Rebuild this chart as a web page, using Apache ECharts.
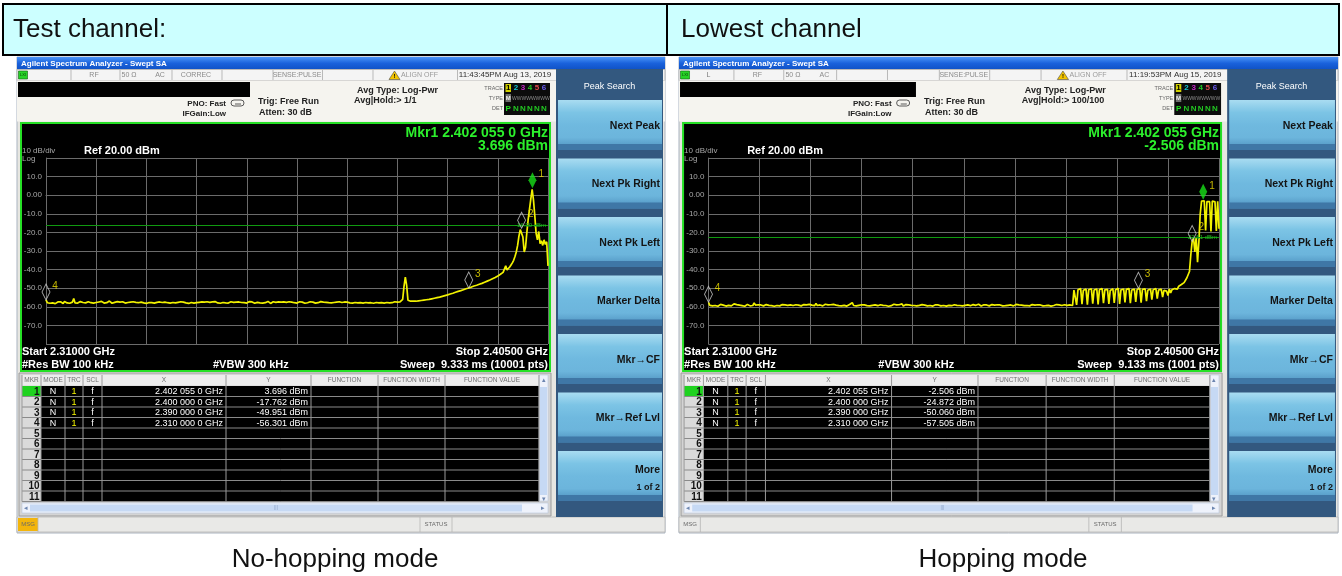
<!DOCTYPE html>
<html>
<head>
<meta charset="utf-8">
<title>Band edge - hopping / no-hopping</title>
<script src="https://cdn.jsdelivr.net/npm/echarts@6/dist/echarts.min.js"></script>
<style>
html,body{margin:0;padding:0;background:#fff;}
#grafica{width:1342px;height:576px;}
</style>
</head>
<body>
<div id="grafica"></div>
<script>
// sweep: 2.310 GHz .. 2.405 GHz, trace read every 0.25 MHz
const startMHz = 2310;
const stopMHz = 2405;
const stepMHz = 0.25;

// No-hopping mode trace (dBm)
const leftTrace = [
-56.3,-57.8,-57.2,-58.1,-57.5,-57.9,-57.0,-58.3,-57.6,-57.4,-58.0,-57.3,-57.7,-58.2,-57.1,-57.6,-57.9,-57.4,-58.1,-57.8,
-57.5,-55.6,-57.9,-57.3,-58.0,-57.6,-57.2,-58.2,-57.7,-57.4,-57.9,-58.1,-57.3,-57.6,-57.8,-57.2,-58.0,-57.5,-57.7,-58.3,
-57.4,-57.9,-57.1,-57.6,-58.0,-57.3,-57.8,-57.5,-56.9,-57.7,-58.1,-57.4,-57.6,-57.9,-57.2,-58.2,-57.5,-57.8,-57.3,-57.6,
-58.0,-57.4,-57.7,-56.8,-57.5,-58.1,-57.3,-57.9,-57.6,-57.2,-57.8,-58.0,-57.5,-57.3,-57.9,-57.6,-58.2,-57.4,-57.7,-57.1,
-57.8,-57.5,-58.0,-57.3,-57.6,-57.9,-57.4,-56.9,-57.7,-58.1,-57.5,-57.2,-57.8,-57.6,-58.0,-57.3,-57.7,-57.5,-57.9,-57.4,
-57.6,-58.1,-57.3,-57.8,-57.5,-57.0,-57.9,-57.6,-58.2,-57.4,-57.7,-57.3,-58.0,-57.5,-57.8,-57.2,-57.6,-57.9,-57.4,-58.1,
-57.5,-57.7,-57.3,-57.9,-57.6,-58.0,-57.4,-57.8,-57.2,-57.6,-57.9,-57.5,-58.1,-57.3,-57.7,-57.4,-57.9,-57.6,-58.0,-57.5,
-57.3,-57.8,-57.6,-56.7,-57.5,-57.9,-57.4,-58.1,-57.7,-57.3,-57.8,-57.5,-58.0,-57.6,-57.2,-57.9,-57.4,-57.7,-58.1,-57.5,
-57.6,-57.3,-57.9,-57.5,-58.0,-57.4,-57.8,-57.6,-57.1,-57.7,-58.2,-57.5,-57.3,-57.8,-57.6,-57.9,-57.4,-58.0,-57.5,-57.7,
-57.4,-57.9,-57.6,-58.1,-57.3,-57.7,-57.5,-56.6,-57.8,-57.4,-58.0,-57.6,-57.3,-57.9,-57.5,-57.7,-58.1,-57.4,-57.8,-57.6,
-57.3,-57.9,-57.5,-57.7,-58.0,-57.4,-57.8,-57.6,-57.2,-57.9,-57.5,-58.1,-57.6,-57.3,-57.8,-57.5,-57.9,-57.4,-57.7,-58.0,
-57.5,-57.6,-57.3,-57.9,-57.7,-58.1,-57.4,-57.8,-57.5,-57.2,-57.9,-57.6,-58.0,-57.4,-57.7,-57.5,-57.9,-57.3,-57.8,-57.6,
-58.0,-57.4,-57.7,-57.5,-57.9,-57.3,-57.8,-57.6,-58.1,-57.4,-57.7,-57.2,-57.9,-57.5,-57.8,-57.6,-58.0,-57.3,-57.7,-57.5,
-57.9,-57.4,-57.8,-57.6,-57.3,-57.9,-57.5,-58.0,-57.4,-57.7,-56.0,-49.0,-44.0,-48.5,-56.5,-57.3,-57.0,-57.4,-56.9,-57.2,
-57.0,-57.3,-56.8,-57.1,-56.6,-57.0,-56.4,-56.8,-56.2,-56.6,-56.0,-56.3,-55.7,-56.0,-55.4,-55.8,-55.1,-55.4,-54.8,-55.0,
-54.4,-54.7,-54.0,-54.2,-53.6,-53.8,-53.1,-53.4,-52.7,-52.9,-52.2,-52.4,-51.7,-51.9,-51.3,-51.4,-50.8,-50.9,-50.3,-50.4,
-49.9,-49.8,-49.4,-49.3,-48.8,-48.9,-48.4,-48.3,-47.9,-47.8,-47.4,-47.2,-46.8,-46.6,-46.2,-46.0,-45.6,-45.3,-44.9,-44.6,
-44.2,-43.8,-43.4,-43.0,-42.5,-42.0,-41.5,-40.8,-38.0,-40.2,-39.5,-38.6,-37.5,-36.4,-35.0,-33.0,-30.5,-27.0,-22.0,-18.5,
-17.8,-22.5,-30.5,-28.0,-20.0,-13.0,-7.5,-2.0,3.2,-2.5,-11.0,-20.5,-24.0,-19.5,-26.0,-24.5,-27.0,-24.0,-26.5,-25.0,
-38.0
];

// Hopping mode trace (dBm)
const rightTrace = [
-57.6,-59.2,-58.8,-59.5,-58.9,-59.3,-58.6,-59.7,-59.0,-58.7,-59.4,-59.1,-58.5,-59.6,-58.9,-59.2,-58.7,-59.5,-59.0,-58.4,
-59.3,-58.8,-59.6,-59.1,-58.6,-59.4,-58.9,-59.7,-59.2,-58.7,-59.0,-59.5,-58.8,-59.3,-57.9,-59.1,-59.6,-58.9,-59.4,-59.0,
-58.7,-59.5,-59.1,-58.8,-59.6,-59.2,-58.5,-59.4,-59.0,-59.7,-58.9,-59.3,-58.6,-59.5,-59.1,-58.8,-59.4,-59.0,-58.3,-59.2,
-59.6,-59.0,-58.7,-59.3,-59.8,-58.9,-59.4,-59.1,-58.6,-59.5,-59.2,-58.8,-59.6,-59.0,-59.3,-58.7,-59.5,-59.1,-58.9,-59.4,
-58.2,-59.3,-59.7,-59.0,-58.8,-59.5,-59.2,-58.6,-59.4,-59.0,-59.7,-58.9,-59.3,-58.7,-59.6,-59.1,-58.8,-59.4,-59.0,-59.5,
-58.9,-59.2,-58.6,-59.6,-59.1,-58.8,-59.4,-57.8,-59.3,-59.0,-59.5,-58.7,-59.2,-59.8,-58.9,-59.3,-59.0,-58.6,-59.4,-59.1,
-59.5,-58.8,-59.2,-59.7,-59.0,-58.7,-59.4,-59.1,-58.9,-59.6,-59.2,-58.5,-59.3,-59.0,-59.7,-58.8,-59.4,-59.1,-58.6,-59.3,
-59.0,-59.5,-58.9,-59.2,-58.4,-59.6,-59.1,-58.8,-59.4,-59.0,-59.7,-59.2,-58.7,-59.3,-59.0,-59.5,-58.9,-59.2,-59.6,-58.8,
-59.4,-59.1,-58.7,-59.5,-59.0,-59.3,-58.8,-59.6,-59.2,-58.9,-59.4,-59.0,-58.6,-59.5,-59.1,-59.3,-58.8,-59.6,-59.0,-59.2,
-58.7,-59.4,-59.1,-58.9,-59.6,-59.2,-58.8,-59.3,-59.0,-59.5,-58.9,-59.2,-59.7,-59.0,-58.7,-59.4,-59.1,-58.8,-59.5,-59.2,
-59.0,-58.6,-59.3,-59.6,-59.1,-58.9,-59.4,-59.0,-58.7,-59.5,-59.2,-58.8,-59.4,-59.1,-59.6,-58.9,-59.3,-59.0,-58.8,-59.5,
-59.1,-59.4,-58.8,-59.2,-59.7,-59.0,-58.9,-59.5,-59.2,-58.7,-59.3,-59.0,-59.6,-59.1,-58.8,-59.4,-59.0,-59.3,-58.9,-59.5,
-59.2,-58.8,-59.4,-59.1,-59.6,-58.9,-59.3,-59.0,-58.7,-59.5,-59.1,-59.4,-58.8,-59.2,-59.0,-59.6,-58.9,-59.3,-59.1,-58.8,
-59.4,-59.0,-58.7,-59.3,-59.1,-58.9,-59.5,-59.2,-58.8,-59.0,-58.6,-59.3,
-51.0,-50.4,-59.0,-50.9, -50.7,-50.2,-58.6,-51.1, -50.9,-50.5,-58.9,-50.8, -50.6,-50.3,-58.3,-51.0,
-51.1,-50.4,-58.7,-50.7, -50.8,-50.2,-58.1,-50.9, -50.5,-50.6,-58.5,-51.2, -50.9,-50.3,-57.9,-50.8,
-50.7,-50.1,-58.4,-50.9, -51.0,-50.4,-57.6,-50.6, -50.6,-50.2,-58.0,-51.0, -50.8,-50.5,-57.4,-50.7,
-50.1,-50.0,-57.8,-50.6, -50.7,-50.3,-56.9,-51.1, -50.9,-50.4,-56.2,-50.8, -50.6,-50.2,-55.6,-51.0,
-50.8,-50.5,-54.8,-51.2, -50.7,-51.6,-53.9,-50.4,
-52.5,-50.8,-51.5,-50.2,-49.6,-50.5,-48.9,-49.5,-48.0,-48.6,-47.0,-46.0,-44.5,-45.2,-41.0,-32.0,
-24.9,-23.0,-30.5,-22.5,-36.0,-25.0,-10.0,-3.2,-2.6,-3.0,-19.0,-3.4,-2.8,-3.5,-19.5,-3.1,
-2.9,-3.6,-19.2,-3.3,-18.0
];

// marker table (MHz / dBm)
const leftMkrFreq = [2402.055, 2400.000, 2390.000, 2310.000];
const leftMkrLevel = [3.696, -17.762, -49.951, -56.301];
const rightMkrFreq = [2402.055, 2400.000, 2390.000, 2310.000];
const rightMkrLevel = [-2.506, -24.872, -50.060, -57.505];

// display line (dBm)
const leftDisplayLine = -16.30;
const rightDisplayLine = -22.51;

const softkeyLabels = ['Next Peak', 'Next Pk Right', 'Next Pk Left', 'Marker Delta', 'Mkr\u2192CF', 'Mkr\u2192Ref Lvl'];
const tableHead = ['MKR', 'MODE', 'TRC', 'SCL', 'X', 'Y', 'FUNCTION', 'FUNCTION WIDTH', 'FUNCTION VALUE'];

const FONT = '"Liberation Sans", Arial, sans-serif';

const panels = [
  { ox: 17, k: 1, trace: leftTrace, mkF: leftMkrFreq, mkL: leftMkrLevel, dl: leftDisplayLine, digits: 7,
    lead: '', correc: 'CORREC', time: '11:43:45PM Aug 13, 2019', hold: 'Avg|Hold:> 1/1',
    sweep: 'Sweep  9.333 ms (10001 pts)', msgHi: true },
  { ox: 679, k: 1.017, trace: rightTrace, mkF: rightMkrFreq, mkL: rightMkrLevel, dl: rightDisplayLine, digits: 6,
    lead: 'L', correc: '', time: '11:19:53PM Aug 15, 2019', hold: 'Avg|Hold:> 100/100',
    sweep: 'Sweep  9.133 ms (1001 pts)', msgHi: false }
];

function fmtGHz(mhz, digits) {
  const s = (mhz / 1000).toFixed(digits);
  const parts = s.split('.');
  const groups = parts[1].match(/.{1,3}/g).join(' ');
  return parts[0] + '.' + groups + ' GHz';
}

function box(x, y, w, h, fill, stroke, lw, z, r) {
  return { type: 'rect', z: z == null ? 1 : z, silent: true,
    shape: { x: x, y: y, width: w, height: h, r: r || 0 },
    style: { fill: fill, stroke: stroke || null, lineWidth: lw || 0 } };
}
function seg(x1, y1, x2, y2, color, lw, z) {
  return { type: 'line', z: z == null ? 3 : z, silent: true,
    shape: { x1: x1, y1: y1, x2: x2, y2: y2 }, style: { stroke: color, lineWidth: lw || 1 } };
}
function txt(x, y, s, font, color, align, z) {
  return { type: 'text', z: z == null ? 6 : z, silent: true,
    style: { text: s, x: x, y: y, font: font, fill: color,
      textAlign: align || 'left', align: align || 'left', textVerticalAlign: 'middle', verticalAlign: 'middle' } };
}
function grad(stops) {
  return new echarts.graphic.LinearGradient(0, 0, 0, 1, stops.map((c, i) => ({ offset: i / (stops.length - 1), color: c })));
}

function panelGraphics(p) {
  const X = x => p.ox + (x - 17) * p.k;
  const W = (a, b) => (b - a) * p.k;
  const g = [];

  // window, title bar
  g.push(box(X(17), 57, W(17, 665), 476, '#e7e6e1', '#a9b3c0', 1, -3));
  g.push(box(X(17), 57, W(17, 665), 12.5, grad(['#4a95f7', '#1a62dc', '#0f52c6']), null, 0, -2));
  g.push(txt(X(21), 63.5, 'Agilent Spectrum Analyzer - Swept SA', 'bold 8px ' + FONT, '#ffffff'));

  // status row
  g.push(box(X(17), 69.5, W(17, 665), 11, '#f4f4f4', '#b9b9b9', 1, -2));
  [71, 120, 172, 222, 273, 322.5, 373, 457.5].forEach(s => g.push(seg(X(s), 70, X(s), 80, '#b9b9b9', 1, 0)));
  g.push(box(X(18.5), 71, 9, 8, '#27d327', '#0f5f0f', 0.6, 1));
  g.push(txt(X(18.5) + 4.5, 75, 'LXI', '4px ' + FONT, '#063806', 'center'));
  if (p.lead) g.push(txt(X(46), 75, p.lead, '7px ' + FONT, '#7a7a7a', 'center'));
  g.push(txt(X(94), 75, 'RF', '7px ' + FONT, '#8a8a8a', 'center'));
  g.push(txt(X(129), 75, '50 \u03a9', '7px ' + FONT, '#8a8a8a', 'center'));
  g.push(txt(X(160), 75, 'AC', '7px ' + FONT, '#8a8a8a', 'center'));
  if (p.correc) g.push(txt(X(196), 75, p.correc, '7px ' + FONT, '#8a8a8a', 'center'));
  g.push(txt(X(297), 75, 'SENSE:PULSE', '7px ' + FONT, '#8a8a8a', 'center'));
  g.push({ type: 'polygon', z: 4, silent: true, shape: { points: [[X(389), 79.5], [X(394.5), 71], [X(400), 79.5]] },
    style: { fill: '#f2c400', stroke: '#4a4a4a', lineWidth: 0.6 } });
  g.push(txt(X(394.5), 76.5, '!', 'bold 6px ' + FONT, '#000', 'center'));
  g.push(txt(X(401), 75, 'ALIGN OFF', '7px ' + FONT, '#9a9a9a'));
  g.push(txt(X(505), 75, p.time, '8px ' + FONT, '#303030', 'center'));

  // settings header
  g.push(box(X(17), 80.5, W(17, 665), 41, '#f5f4ef', null, 0, -2));
  g.push(box(X(18), 82, W(18, 250), 15, '#000000', null, 0, 1));
  g.push(txt(X(226), 104, 'PNO: Fast', 'bold 8px ' + FONT, '#222', 'right'));
  g.push(txt(X(226), 114, 'IFGain:Low', 'bold 8px ' + FONT, '#222', 'right'));
  g.push(box(X(231), 100, 13, 6, null, '#333', 0.8, 4, 3));
  g.push(seg(X(235), 104, X(241), 104, '#333', 0.8, 4));
  g.push(txt(X(258), 102, 'Trig: Free Run', 'bold 9px ' + FONT, '#222'));
  g.push(txt(X(259), 113, 'Atten: 30 dB', 'bold 9px ' + FONT, '#222'));
  g.push(txt(X(357), 91, 'Avg Type: Log-Pwr', 'bold 9px ' + FONT, '#222'));
  g.push(txt(X(354), 101, p.hold, 'bold 9px ' + FONT, '#222'));

  // trace / type / det box
  g.push(txt(X(503), 88, 'TRACE', '5.5px ' + FONT, '#666', 'right'));
  g.push(txt(X(503), 98, 'TYPE', '5.5px ' + FONT, '#666', 'right'));
  g.push(txt(X(503), 108.5, 'DET', '5.5px ' + FONT, '#666', 'right'));
  g.push(box(X(504), 83, W(504, 550), 32, '#0c0c0c', null, 0, 1));
  g.push(box(X(505.5), 84, 5.5, 8, '#d2d200', null, 0, 2));
  g.push(txt(X(508.2), 88.2, '1', 'bold 8px ' + FONT, '#000', 'center'));
  [['2', '#12c8d2'], ['3', '#c828c8'], ['4', '#22c622'], ['5', '#e04848'], ['6', '#6a5cf0']].forEach((d, i) =>
    g.push(txt(X(516 + i * 7), 88.2, d[0], 'bold 8px ' + FONT, d[1], 'center')));
  g.push(box(X(505.5), 94, 5.5, 8, '#6e6e6e', null, 0, 2));
  g.push(txt(X(508.2), 98.2, 'M', 'bold 6px ' + FONT, '#eee', 'center'));
  g.push(txt(X(512), 98.2, 'WWWWWWWW', '5px ' + FONT, '#8c8c8c'));
  g.push(txt(X(508.2), 108.5, 'P', 'bold 8px ' + FONT, '#22e022', 'center'));
  ['N', 'N', 'N', 'N', 'N'].forEach((d, i) => g.push(txt(X(516 + i * 7), 108.5, d, 'bold 8px ' + FONT, '#22c622', 'center')));

  // plot frame and annotations
  g.push(box(X(21), 123, W(21, 550), 248, '#000000', '#25e025', 2, -1));
  const mk1 = 'Mkr1 ' + fmtGHz(p.mkF[0], p.digits);
  g.push(txt(X(548), 133, mk1, 'bold 14px ' + FONT, '#2cf02c', 'right', 10));
  g.push(txt(X(548), 146.5, p.mkL[0].toFixed(3) + ' dBm', 'bold 14px ' + FONT, '#2cf02c', 'right', 10));
  g.push(txt(X(22), 151, '10 dB/div', '8px ' + FONT, '#a8a8a8', 'left', 10));
  g.push(txt(X(22), 158.5, 'Log', '8px ' + FONT, '#a8a8a8', 'left', 10));
  g.push(txt(X(84), 150.5, 'Ref 20.00 dBm', 'bold 11px ' + FONT, '#ffffff', 'left', 10));
  g.push(txt(X(22), 352, 'Start ' + (startMHz / 1000).toFixed(5) + ' GHz', 'bold 11px ' + FONT, '#ffffff', 'left', 10));
  g.push(txt(X(548), 352, 'Stop ' + (stopMHz / 1000).toFixed(5) + ' GHz', 'bold 11px ' + FONT, '#ffffff', 'right', 10));
  g.push(txt(X(22), 365, '#Res BW 100 kHz', 'bold 11px ' + FONT, '#ffffff', 'left', 10));
  g.push(txt(X(213), 365, '#VBW 300 kHz', 'bold 11px ' + FONT, '#ffffff', 'left', 10));
  g.push(txt(X(548), 365, p.sweep, 'bold 11px ' + FONT, '#ffffff', 'right', 10));

  // marker table
  const cols = [22, 41, 65, 83, 102, 226, 311, 378, 445, 539];
  const rowTop = 386, rowH = 10.5;
  g.push(box(X(19), 373, W(19, 551), 143, '#d4d4d4', '#9c9c9c', 1, -2));
  g.push(box(X(22), 375, W(22, 539), 10.5, '#ededed', null, 0, 0));
  tableHead.forEach((h, i) => g.push(txt((X(cols[i]) + X(cols[i + 1])) / 2, 380.5, h, '6.5px ' + FONT, '#6f6f6f', 'center')));
  g.push(box(X(41), rowTop, W(41, 539), rowH * 11, '#000000', null, 0, 0));
  for (let r = 0; r < 11; r++) {
    const y = rowTop + r * rowH;
    g.push(box(X(22), y, W(22, 41), rowH, r === 0 ? '#1fd21f' : '#dadada', null, 0, 0));
    g.push(txt(X(39.5), y + rowH / 2 + 0.5, String(r + 1), 'bold 10px ' + FONT, '#111', 'right'));
    g.push(seg(X(22), y + rowH, X(539), y + rowH, '#8a8a8a', 1, 2));
  }
  cols.forEach(c => g.push(seg(X(c), 375, X(c), rowTop + rowH * 11, '#9a9a9a', 1, 2)));
  for (let r = 0; r < p.mkF.length; r++) {
    const y = rowTop + r * rowH + rowH / 2 + 0.5;
    g.push(txt((X(41) + X(65)) / 2, y, 'N', '9px ' + FONT, '#ffffff', 'center'));
    g.push(txt((X(65) + X(83)) / 2, y, '1', '9px ' + FONT, '#f5f500', 'center'));
    g.push(txt((X(83) + X(102)) / 2, y, 'f', '9px ' + FONT, '#ffffff', 'center'));
    g.push(txt(X(223), y, fmtGHz(p.mkF[r], p.digits), '9px ' + FONT, '#ffffff', 'right'));
    g.push(txt(X(308), y, p.mkL[r].toFixed(3) + ' dBm', '9px ' + FONT, '#ffffff', 'right'));
  }
  // scroll bars
  g.push(box(X(539), 375, W(539, 548), rowH * 12, '#eef2fb', '#b8c6dc', 0.6, 1));
  g.push(box(X(540), 387, W(540, 547), 108, '#c6d9f4', null, 0, 2));
  g.push(txt((X(539) + X(548)) / 2, 380, '\u25b4', '7px ' + FONT, '#6d86b0', 'center'));
  g.push(txt((X(539) + X(548)) / 2, 499, '\u25be', '7px ' + FONT, '#6d86b0', 'center'));
  g.push(box(X(22), 503, W(22, 548), 10, '#eef2fb', '#b8c6dc', 0.6, 1));
  g.push(box(X(30), 504.5, W(30, 522), 7, '#c6d9f4', null, 0, 2));
  g.push(txt(X(26), 508, '\u25c2', '7px ' + FONT, '#6d86b0', 'center'));
  g.push(txt(X(543), 508, '\u25b8', '7px ' + FONT, '#6d86b0', 'center'));
  g.push(txt((X(30) + X(522)) / 2, 508, '|||', '5px ' + FONT, '#8ea4c8', 'center'));

  // message bar
  g.push(box(X(17), 517, W(17, 665), 15, '#e9e9e7', '#b6b6b6', 0.8, -1));
  if (p.msgHi) g.push(box(X(18), 518, W(18, 38), 13, '#f3b50c', null, 0, 1));
  g.push(txt(X(28), 524.5, 'MSG', '6px ' + FONT, '#6a6a6a', 'center'));
  g.push(seg(X(38), 517, X(38), 532, '#b6b6b6', 0.8, 1));
  g.push(seg(X(420), 517, X(420), 532, '#b6b6b6', 0.8, 1));
  g.push(seg(X(452), 517, X(452), 532, '#b6b6b6', 0.8, 1));
  g.push(txt(X(436), 524.5, 'STATUS', '6px ' + FONT, '#6a6a6a', 'center'));

  // softkeys
  g.push(box(X(556), 69, W(556, 663), 448, '#33587f', null, 0, -1));
  g.push(txt((X(556) + X(663)) / 2, 87, 'Peak Search', '9px ' + FONT, '#ffffff', 'center'));
  const keyTops = [100, 158.5, 217, 275.5, 334, 392.5, 451];
  keyTops.forEach((t, i) => {
    g.push(box(X(558), t, W(558, 662), 50, grad(['#a9dcf1', '#7cc4e5', '#6fb9df', '#6cb5dc', '#4c8fbd']), null, 0, 0));
    g.push(box(X(558), t + 44, W(558, 662), 6, '#3f77a6', null, 0, 1));
    if (i < softkeyLabels.length) {
      g.push(txt(X(660), t + 26, softkeyLabels[i], 'bold 10.5px ' + FONT, '#141414', 'right'));
    } else {
      g.push(txt(X(660), t + 19, 'More', 'bold 10.5px ' + FONT, '#141414', 'right'));
      g.push(txt(X(660), t + 37, '1 of 2', 'bold 9px ' + FONT, '#141414', 'right'));
    }
  });
  return { g: g, X: X };
}

const graphics = [];
// header banner and captions
graphics.push(box(3, 4, 1336, 51, '#ccffff', '#000000', 2, -5));
graphics.push(seg(667, 4, 667, 55, '#000000', 2, 2));
graphics.push(txt(13, 30, 'Test channel:', '26px ' + FONT, '#111111'));
graphics.push(txt(681, 30, 'Lowest channel', '26px ' + FONT, '#111111'));
graphics.push(txt(335, 560, 'No-hopping mode', '26px ' + FONT, '#111111', 'center'));
graphics.push(txt(1003, 560, 'Hopping mode', '26px ' + FONT, '#111111', 'center'));

const grids = [], xAxes = [], yAxes = [], series = [];
panels.forEach((p, i) => {
  const pg = panelGraphics(p);
  pg.g.forEach(e => graphics.push(e));
  const X = pg.X;
  grids.push({ left: X(46), top: 158, width: X(548) - X(46), height: 186, show: false });
  xAxes.push({
    gridIndex: i, type: 'value', min: 0, max: stopMHz - startMHz, interval: 9.5,
    axisLine: { show: true, lineStyle: { color: '#6b6b6b', width: 1 } },
    axisTick: { show: false }, axisLabel: { show: false },
    splitLine: { show: true, lineStyle: { color: '#6b6b6b', width: 1 } }
  });
  yAxes.push({
    gridIndex: i, type: 'value', min: -80, max: 20, interval: 10,
    axisLine: { show: true, lineStyle: { color: '#6b6b6b', width: 1 } },
    axisTick: { show: false },
    axisLabel: {
      color: '#a8a8a8', fontSize: 8, fontFamily: FONT, margin: 4,
      formatter: v => (v >= 20 || v <= -80) ? '' : (v === 0 ? '0.00' : v.toFixed(1))
    },
    splitLine: { show: true, lineStyle: { color: '#6b6b6b', width: 1 } }
  });
  series.push({
    type: 'line', xAxisIndex: i, yAxisIndex: i, showSymbol: false, animation: false,
    data: p.trace.map((v, j) => [j * stepMHz, v]),
    lineStyle: { color: '#f2f200', width: 1.7 },
    markLine: {
      silent: true, symbol: 'none', animation: false,
      lineStyle: { color: '#109a10', width: 1, type: 'solid' },
      label: { show: true, position: 'insideEndTop', distance: [2, -3], formatter: p.dl.toFixed(2) + ' dBm',
        color: '#22b022', fontSize: 6, fontFamily: FONT },
      data: [{ yAxis: p.dl }]
    },
    z: 3
  });
  series.push({
    type: 'scatter', xAxisIndex: i, yAxisIndex: i, animation: false, clip: false,
    symbol: 'diamond', symbolSize: [8, 16], symbolOffset: [0, -8],
    data: p.mkF.map((f, j) => ({
      value: [f - startMHz, p.mkL[j]], name: String(j + 1),
      itemStyle: j === 0 ? { color: '#18e018', borderWidth: 0 } : { color: 'rgba(0,0,0,0)', borderColor: '#d0d0d0', borderWidth: 1 }
    })),
    label: { show: true, formatter: '{b}', position: 'right', distance: 2, offset: [0, -6],
      color: '#f0e000', fontSize: 10, fontFamily: FONT },
    z: 5
  });
});

var dom = document.getElementById('grafica');
var myChart = echarts.init(dom, null, { renderer: 'canvas' });
var option = {
  backgroundColor: '#ffffff',
  animation: false,
  grid: grids,
  xAxis: xAxes,
  yAxis: yAxes,
  series: series,
  graphic: { elements: graphics }
};
myChart.setOption(option);
window.addEventListener('resize', myChart.resize);
</script>
</body>
</html>
